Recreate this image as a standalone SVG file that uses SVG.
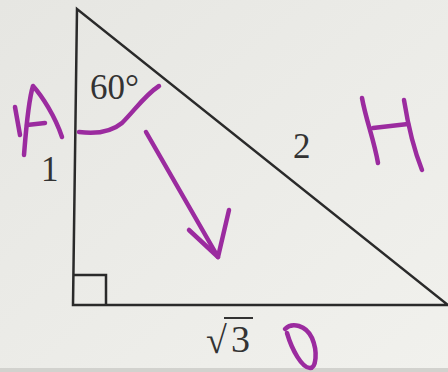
<svg xmlns="http://www.w3.org/2000/svg" width="448" height="372" viewBox="0 0 448 372">
<defs>
<linearGradient id="paper" x1="0" y1="0" x2="1" y2="1">
<stop offset="0" stop-color="#e6e6e2"/>
<stop offset="1" stop-color="#f1f1ed"/>
</linearGradient>
<style>
.ink{fill:none;stroke:#2a2a2a;stroke-width:2.5;stroke-linejoin:miter}
.lbl{font-family:"Liberation Serif","Times New Roman",serif;font-size:35px;fill:#333}
.pen{fill:none;stroke:#9b2b9f;stroke-width:4.5;stroke-linecap:round;stroke-linejoin:round}
</style>
</defs>
<rect width="448" height="372" fill="url(#paper)"/>
<rect y="368" width="448" height="4" fill="#d2d2ce"/>
<g id="triangle">
<path class="ink" d="M77,9 L73,305 L448,305 Z"/>
<path class="ink" d="M73,275 L106,275 L106,305"/>
</g>
<g id="labels">
<text class="lbl" x="90" y="99">60°</text>
<text class="lbl" x="41" y="181">1</text>
<text class="lbl" x="293" y="158">2</text>
<text class="lbl" x="206" y="353" style="font-size:38px">√</text>
<text class="lbl" x="231" y="352" style="font-size:38px">3</text>
<line x1="224" y1="318" x2="253" y2="318" stroke="#333" stroke-width="2"/>
</g>
<g id="annotations">
<path class="pen" d="M24,155 C26,130 28,102 33,86 C42,96 55,116 62,137"/>
<path class="pen" d="M27,125 L45,123"/>
<path class="pen" d="M15,107 L20,135"/>
<path class="pen" d="M79,132 C95,134 110,133 122,123 C135,110 145,95 159,86"/>
<path class="pen" d="M146,132 L218,257"/>
<path class="pen" d="M189,230 L218,257 L229,210"/>
<path class="pen" d="M362,98 C366,120 374,140 378,163"/>
<path class="pen" d="M404,100 C408,125 414,150 422,170"/>
<path class="pen" d="M373,128 L408,124"/>
<path class="pen" d="M285,329 C292,322 306,325 312,338 C318,352 316,368 310,368 C302,368 292,350 287,333"/>
</g>
</svg>
